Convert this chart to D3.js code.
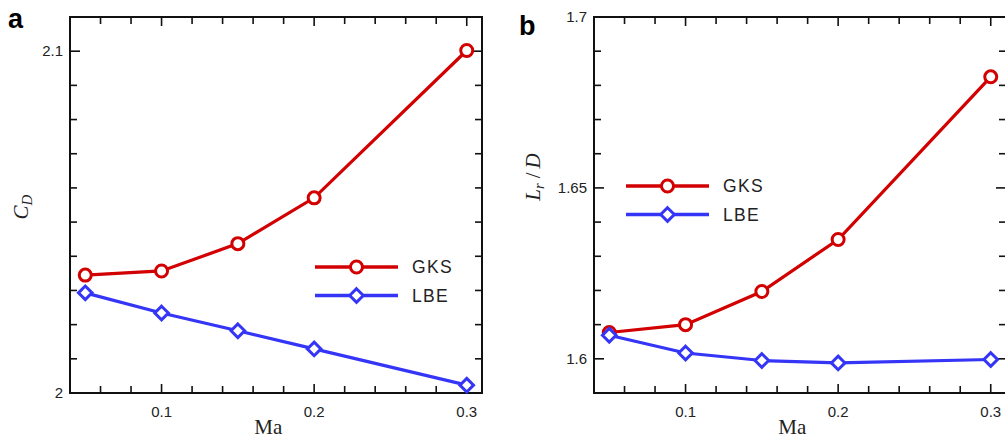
<!DOCTYPE html>
<html>
<head>
<meta charset="utf-8">
<script src="https://cdn.jsdelivr.net/npm/d3@7/dist/d3.min.js"></script>
<style>
  body { margin: 0; background: #fff; }
  svg { display: block; }
  .tick-label { font-family: "Liberation Sans", Arial, sans-serif; font-size: 15px; fill: #222; }
  .legend-label { font-family: "Liberation Sans", Arial, sans-serif; font-size: 17.5px; fill: #222; letter-spacing: 1.3px; }
  .axis-title { font-family: "Liberation Serif", "Times New Roman", serif; font-size: 21px; fill: #222; }
  .panel-tag { font-family: "Liberation Sans", Arial, sans-serif; font-size: 27px; font-weight: bold; fill: #000; }
</style>
</head>
<body>
<svg id="chart" width="1005" height="439"></svg>
<script>
// Mach numbers shared by both panels
const mach = [0.05, 0.1, 0.15, 0.2, 0.3];

// panel a: drag coefficient
const cdGKS = [2.0345, 2.0357, 2.0437, 2.0571, 2.1002];
const cdLBE = [2.0293, 2.0234, 2.0182, 2.0129, 2.0023];

// panel b: recirculation length
const lrGKS = [1.6077, 1.6100, 1.6197, 1.6349, 1.6825];
const lrLBE = [1.6069, 1.6017, 1.5995, 1.5988, 1.5998];

const xMajorTicks = [0.1, 0.2, 0.3];
const cdMajorTicks = [2, 2.1];
const lrMajorTicks = [1.6, 1.65, 1.7];

const seriesNames = ['GKS', 'LBE'];

const RED = '#d20000';
const BLUE = '#3535f8';

const svg = d3.select('#chart');

function drawPanel(opts) {
  const { box, yDomain, yMajor, yMinorStep, gks, lbe, legendAt, tag, tagAt, yTitle } = opts;
  const width = box.right - box.left;
  const height = box.bottom - box.top;

  const x = d3.scaleLinear().domain([0.04, 0.31]).range([0, width]);
  const y = d3.scaleLinear().domain(yDomain).range([height, 0]);

  const g = svg.append('g').attr('transform', `translate(${box.left},${box.top})`);

  const xMinor = d3.range(0.06, 0.31, 0.02).filter(v => !xMajorTicks.some(m => Math.abs(m - v) < 1e-6));
  const yMinor = d3.range(yDomain[0], yDomain[1] + 1e-9, yMinorStep)
    .filter(v => !yMajor.some(m => Math.abs(m - v) < 1e-6));

  // ticks pointing inward, mirrored on all four sides
  const tickG = g.append('g').attr('stroke', '#111').attr('stroke-width', 1.6);
  const addX = (vals, len) => {
    vals.forEach(v => {
      tickG.append('line').attr('x1', x(v)).attr('x2', x(v)).attr('y1', height).attr('y2', height - len);
      tickG.append('line').attr('x1', x(v)).attr('x2', x(v)).attr('y1', 0).attr('y2', len);
    });
  };
  const addY = (vals, len) => {
    vals.forEach(v => {
      tickG.append('line').attr('x1', 0).attr('x2', len).attr('y1', y(v)).attr('y2', y(v));
      tickG.append('line').attr('x1', width).attr('x2', width - len).attr('y1', y(v)).attr('y2', y(v));
    });
  };
  addX(xMajorTicks, 9);
  addX(xMinor, 7);
  addY(yMajor, 10);
  addY(yMinor, 7);

  g.append('rect')
    .attr('width', width).attr('height', height)
    .attr('fill', 'none').attr('stroke', '#111').attr('stroke-width', 2);

  // tick labels
  g.selectAll('.xl').data(xMajorTicks).enter().append('text')
    .attr('class', 'tick-label')
    .attr('x', d => x(d)).attr('y', height + 24)
    .attr('text-anchor', 'middle')
    .text(d => d3.format('.1f')(d));

  g.selectAll('.yl').data(yMajor).enter().append('text')
    .attr('class', 'tick-label')
    .attr('x', -7).attr('y', d => y(d) + 5)
    .attr('text-anchor', 'end')
    .text(d => String(+d.toFixed(2)));

  // curves
  const line = d3.line().x(d => x(d[0])).y(d => y(d[1]));
  const series = [
    { name: seriesNames[0], color: RED, values: gks, marker: 'circle' },
    { name: seriesNames[1], color: BLUE, values: lbe, marker: 'diamond' },
  ];

  const drawMarker = (sel, s, cx, cy) => {
    if (s.marker === 'circle') {
      sel.append('circle').attr('cx', cx).attr('cy', cy).attr('r', 6)
        .attr('fill', '#fff').attr('stroke', s.color).attr('stroke-width', 3);
    } else {
      const r = 6.8;
      sel.append('path')
        .attr('d', `M${cx},${cy - r}L${cx + r},${cy}L${cx},${cy + r}L${cx - r},${cy}Z`)
        .attr('fill', '#fff').attr('stroke', s.color).attr('stroke-width', 3);
    }
  };

  series.forEach(s => {
    const pts = mach.map((m, i) => [m, s.values[i]]);
    g.append('path').datum(pts)
      .attr('d', line).attr('fill', 'none')
      .attr('stroke', s.color).attr('stroke-width', 3.2);
    pts.forEach(p => drawMarker(g, s, x(p[0]), y(p[1])));
  });

  // legend
  series.forEach((s, i) => {
    const ly = legendAt.y + i * 28.5;
    svg.append('line')
      .attr('x1', legendAt.x).attr('x2', legendAt.x + 83)
      .attr('y1', ly).attr('y2', ly)
      .attr('stroke', s.color).attr('stroke-width', 3.5);
    drawMarker(svg, s, legendAt.x + 41.5, ly);
    svg.append('text').attr('class', 'legend-label')
      .attr('x', legendAt.x + 97).attr('y', ly + 6)
      .text(s.name);
  });

  // axis titles
  svg.append('text').attr('class', 'axis-title')
    .attr('x', box.left + x(0.17)).attr('y', 434)
    .attr('text-anchor', 'middle')
    .text('Ma');

  const yt = svg.append('text').attr('class', 'axis-title')
    .attr('transform', `translate(${yTitle.x},${yTitle.y}) rotate(-90)`)
    .attr('text-anchor', 'middle')
    .style('font-style', 'italic');
  yTitle.parts.forEach(p => {
    const t = yt.append('tspan').text(p.text);
    if (p.sub) t.attr('baseline-shift', '-25%').style('font-size', '15px');
    if (p.upright) t.style('font-style', 'normal');
    if (p.dx) t.attr('dx', p.dx);
  });

  svg.append('text').attr('class', 'panel-tag')
    .attr('x', tagAt.x).attr('y', tagAt.y)
    .text(tag);
}

drawPanel({
  box: { left: 70, top: 17, right: 482, bottom: 393 },
  yDomain: [2, 2.11],
  yMajor: cdMajorTicks,
  yMinorStep: 0.01,
  gks: cdGKS,
  lbe: cdLBE,
  legendAt: { x: 315, y: 267 },
  tag: 'a',
  tagAt: { x: 8, y: 28 },
  yTitle: { x: 28, y: 207, parts: [{ text: 'C' }, { text: 'D', sub: true }] },
});

drawPanel({
  box: { left: 594, top: 17, right: 1006, bottom: 393 },
  yDomain: [1.59, 1.7],
  yMajor: lrMajorTicks,
  yMinorStep: 0.01,
  gks: lrGKS,
  lbe: lrLBE,
  legendAt: { x: 626, y: 186 },
  tag: 'b',
  tagAt: { x: 519, y: 35 },
  yTitle: { x: 540, y: 177, parts: [{ text: 'L' }, { text: 'r', sub: true }, { text: '/', upright: true, dx: 5 }, { text: 'D', dx: 4 }] },
});
</script>
</body>
</html>
